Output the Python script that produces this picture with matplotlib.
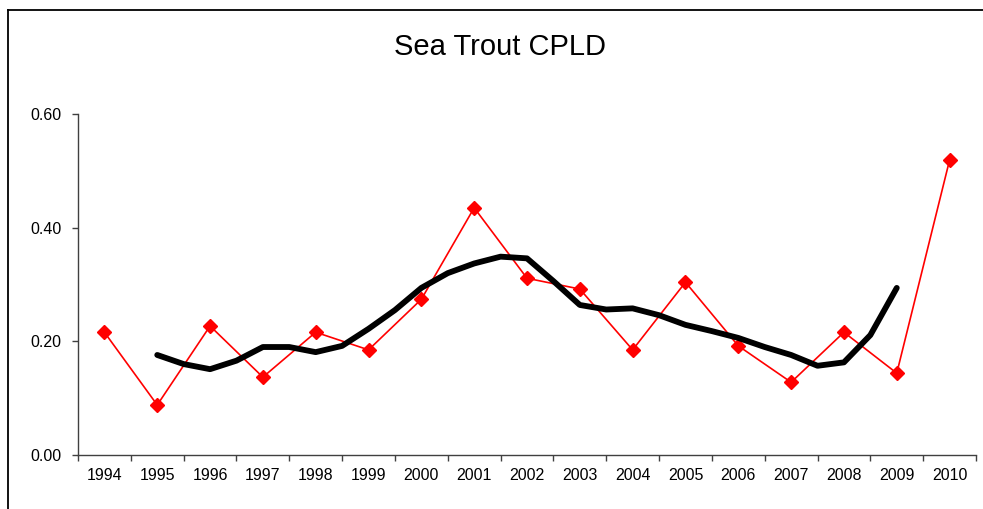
import numpy as np
import matplotlib.pyplot as plt
from matplotlib.lines import Line2D

plt.rcParams['font.family'] = ['Liberation Sans', 'DejaVu Sans']

years = [str(y) for y in range(1994, 2011)]
cpld = [0.216, 0.088, 0.227, 0.137, 0.216, 0.185, 0.274, 0.435, 0.311,
        0.292, 0.185, 0.304, 0.192, 0.128, 0.216, 0.144, 0.519]

# smoothed trend, read at half-year steps from 1995 to 2009
trend_x = [1995 + 0.5 * i for i in range(29)]
trend = [0.176, 0.160, 0.151, 0.166, 0.190, 0.190, 0.181, 0.192, 0.222,
         0.255, 0.294, 0.320, 0.337, 0.349, 0.346, 0.306, 0.264, 0.256,
         0.258, 0.246, 0.229, 0.218, 0.206, 0.190, 0.176, 0.157, 0.163,
         0.211, 0.294]

fig = plt.figure(figsize=(9.83, 5.09), dpi=100)
ax = fig.add_axes([78 / 983, 1 - 455 / 509, (976 - 78) / 983, (455 - 114) / 509])

x = np.arange(len(years))
ax.plot(x, cpld, color='red', linewidth=1.2, marker='D', markersize=7,
        markeredgecolor='red', markerfacecolor='red', zorder=3)
tx = np.array(trend_x) - 1994
ax.plot(tx, trend, color='black', linewidth=4.2, solid_capstyle='round',
        solid_joinstyle='round', zorder=4)

ax.set_xlim(-0.5, len(years) - 0.5)
ax.set_ylim(0, 0.6)
ax.set_yticks([0.0, 0.2, 0.4, 0.6])
ax.set_yticklabels(['0.00', '0.20', '0.40', '0.60'])
ax.set_xticks(x)
ax.set_xticklabels(years)
ax.set_xticks(np.arange(-0.5, len(years)), minor=True)
ax.tick_params(axis='x', which='major', length=0, pad=9, labelsize=11.5)
ax.tick_params(axis='x', which='minor', length=4, width=1, color='#404040')
ax.tick_params(axis='y', length=4, width=1, color='#404040', pad=8, labelsize=11.5)

for s in ['top', 'right']:
    ax.spines[s].set_visible(False)
for s in ['left', 'bottom']:
    ax.spines[s].set_color('#404040')
    ax.spines[s].set_linewidth(1)

fig.text(500 / 983, 1 - 47 / 509, 'Sea Trout CPLD', ha='center', va='center',
         fontsize=21)

# outer chart frame (left and top edges visible)
fig.add_artist(Line2D([8 / 983, 8 / 983], [0, 1 - 10 / 509], color='black',
                      linewidth=1.3, transform=fig.transFigure))
fig.add_artist(Line2D([8 / 983, 1], [1 - 10 / 509, 1 - 10 / 509], color='black',
                      linewidth=1.3, transform=fig.transFigure))

fig.savefig('out.png', dpi=100)
